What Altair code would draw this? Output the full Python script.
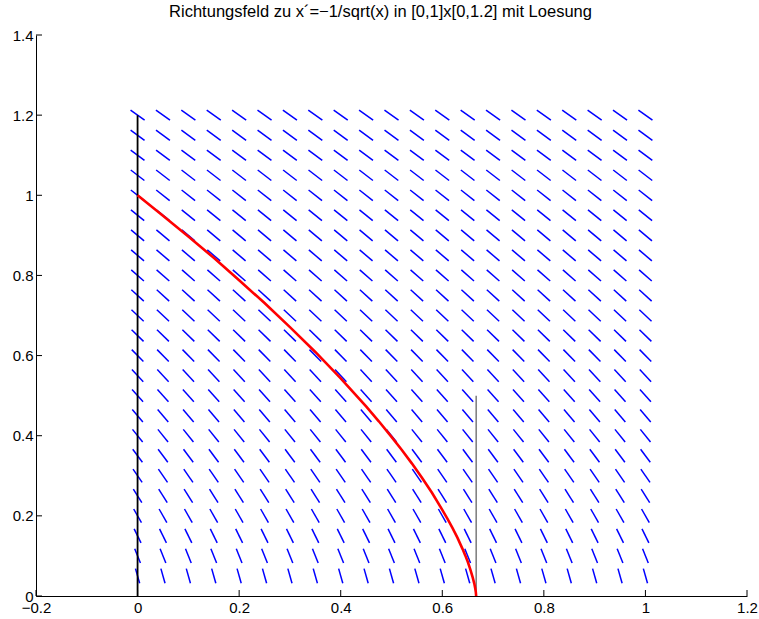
import altair as alt
import pandas as pd
import numpy as np

# Grid of the direction field (t horizontally, x vertically)
t_grid = [0.0, 0.05, 0.1, 0.15, 0.2, 0.25, 0.3, 0.35, 0.4, 0.45, 0.5,
          0.55, 0.6, 0.65, 0.7, 0.75, 0.8, 0.85, 0.9, 0.95, 1.0]
x_grid = [0.05, 0.1, 0.15, 0.2, 0.25, 0.3, 0.35, 0.4, 0.45, 0.5, 0.55, 0.6,
          0.65, 0.7, 0.75, 0.8, 0.85, 0.9, 0.95, 1.0, 1.05, 1.1, 1.15, 1.2]

# Solution through (0, 1)
sol_t = [0.0, 0.05, 0.1, 0.15, 0.2, 0.25, 0.3, 0.35, 0.4, 0.425, 0.45, 0.475,
         0.5, 0.52, 0.54, 0.56, 0.58, 0.6, 0.61, 0.62, 0.63, 0.64, 0.645,
         0.65, 0.655, 0.66, 0.663, 0.665, 0.666, 0.6667]
sol_x = [1.0, 0.949, 0.897, 0.844, 0.788, 0.731, 0.671, 0.609, 0.543, 0.508,
         0.473, 0.436, 0.397, 0.365, 0.331, 0.295, 0.257, 0.215, 0.193, 0.170,
         0.145, 0.117, 0.102, 0.086, 0.067, 0.046, 0.031, 0.018, 0.010, 0.0]

# Vertical reference lines
vline_t = [0.0, 0.6667]
vline_top = [1.2, 0.5]

x_ticks = [-0.2, 0.0, 0.2, 0.4, 0.6, 0.8, 1.0, 1.2]
y_ticks = [0.0, 0.2, 0.4, 0.6, 0.8, 1.0, 1.2, 1.4]

TITLE = "Richtungsfeld zu x\u00b4=\u22121/sqrt(x) in [0,1]x[0,1.2] mit Loesung"

W, H = 711, 561
half = 0.01875  # half length of a field segment (data units)

rows = []
for t in t_grid:
    for x in x_grid:
        f = -1.0 / np.sqrt(x)
        n = np.sqrt(1.0 + f * f)
        dt, dx = half / n, half * f / n
        rows.append({"t1": t - dt, "x1": x - dx, "t2": t + dt, "x2": x + dx})
field = pd.DataFrame(rows)

sol = pd.DataFrame({"t": sol_t, "x": sol_x, "o": range(len(sol_t))})
vlines = pd.DataFrame({"t": vline_t, "y0": [0.0, 0.0], "y1": vline_top,
                       "c": ["a", "b"]})

xs = alt.Scale(domain=[-0.2, 1.2], nice=False, zero=False)
ys = alt.Scale(domain=[0, 1.4], nice=False, zero=False)

FONT = "Liberation Sans"
label_expr = "replace(format(datum.value, '~g'), '-', '\u2212')"

x_axis = alt.Axis(values=x_ticks, ticks=False, grid=False, domainColor="black",
                  domainWidth=1, labelFont=FONT, labelFontSize=15,
                  labelColor="black", labelPadding=4, labelExpr=label_expr,
                  title=None, labelFlush=False)
y_axis = alt.Axis(values=y_ticks, ticks=False, grid=False, domainColor="black",
                  domainWidth=1, labelFont=FONT, labelFontSize=15,
                  labelColor="black", labelPadding=3, labelExpr=label_expr,
                  title=None, labelFlush=False)

field_layer = alt.Chart(field).mark_rule(color="#0000ff", strokeWidth=1.5).encode(
    x=alt.X("t1:Q", scale=xs, axis=x_axis),
    y=alt.Y("x1:Q", scale=ys, axis=y_axis),
    x2="t2:Q",
    y2="x2:Q",
)

axis_line = alt.Chart(vlines[vlines.c == "a"]).mark_rule(
    color="black", strokeWidth=1.8
).encode(x=alt.X("t:Q", scale=xs), y=alt.Y("y0:Q", scale=ys), y2="y1:Q")

end_line = alt.Chart(vlines[vlines.c == "b"]).mark_rule(
    color="#666666", strokeWidth=1.3
).encode(x=alt.X("t:Q", scale=xs), y=alt.Y("y0:Q", scale=ys), y2="y1:Q")

sol_layer = alt.Chart(sol).mark_line(color="#ff0000", strokeWidth=2.6).encode(
    x=alt.X("t:Q", scale=xs),
    y=alt.Y("x:Q", scale=ys),
    order="o:Q",
)

# inward-pointing tick marks
xt = alt.Chart(pd.DataFrame({"v": x_ticks})).mark_rule(
    color="black", strokeWidth=1
).encode(x=alt.X("v:Q", scale=xs), y=alt.value(H), y2=alt.value(H - 6))
yt = alt.Chart(pd.DataFrame({"v": y_ticks})).mark_rule(
    color="black", strokeWidth=1
).encode(y=alt.Y("v:Q", scale=ys), x=alt.value(0), x2=alt.value(6))

chart = alt.layer(field_layer, axis_line, end_line, sol_layer, xt, yt).properties(
    width=W,
    height=H,
    background="white",
    title=alt.TitleParams(TITLE, font=FONT, fontSize=16.5, fontWeight="normal",
                          color="black", anchor="middle", offset=8, dx=-11),
    autosize=alt.AutoSizeParams(type="none"),
    padding={"left": 36, "top": 35, "right": 12, "bottom": 23},
).configure_view(strokeWidth=0, stroke="transparent")

chart.save("out.html", embed_options={"renderer": "svg", "actions": False})
